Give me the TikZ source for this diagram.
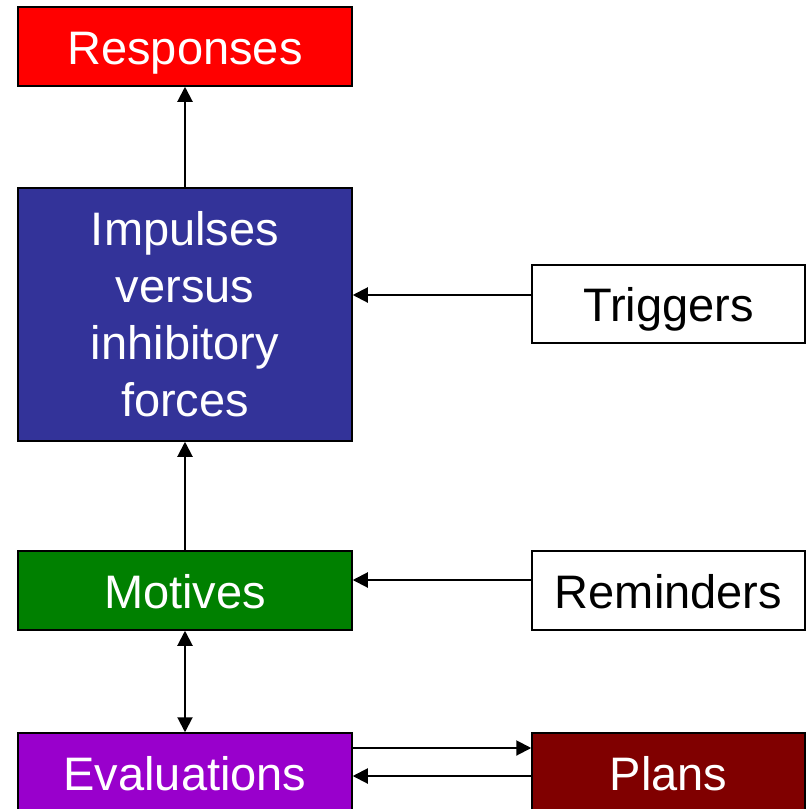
\documentclass[tikz,border=0pt]{standalone}
\usepackage{fontspec}
\setmainfont{Liberation Sans}
\usetikzlibrary{arrows.meta, positioning}

\definecolor{respred}{HTML}{FF0000}
\definecolor{impblue}{HTML}{333399}
\definecolor{motgreen}{HTML}{008000}
\definecolor{evalpurple}{HTML}{9900CC}
\definecolor{plandark}{HTML}{800000}

\tikzset{
  box/.style={draw=black, line width=1.5pt, minimum width=334pt, minimum height=79pt,
    inner sep=0pt, align=center, font=\fontsize{47}{57}\selectfont},
  oneline/.style={text height=40pt, text depth=5pt},
  sidebox/.style={box, oneline, minimum width=273pt, fill=white},
  arr/.style={line width=2pt, -{Triangle[length=15pt,width=15pt]}},
}

\begin{document}
\begin{tikzpicture}[x=1pt,y=-1pt]
	  \clip (0,0) rectangle (809,809);
	  \fill[white] (0,0) rectangle (809,809);

	  % left column
	  \node[box, oneline, fill=respred, text=white] (resp) at (185,46.5) {Responses};
	  \node[box, fill=impblue, text=white, minimum height=253pt] (imp) at (185,314.5) {Impulses\\versus\\inhibitory\\forces};
	  \node[box, oneline, fill=motgreen, text=white] (mot) at (185,590.5) {Motives};
	  \node[box, oneline, fill=evalpurple, text=white] (eval) at (185,772.5) {Evaluations};

	  % right column
	  \node[sidebox, minimum height=78pt] (trig) at (668.5,304) {Triggers};
	  \node[sidebox] (rem) at (668.5,590.5) {Reminders};
	  \node[sidebox, fill=plandark, text=white] (plans) at (668.5,772.5) {Plans};

	  \draw[arr] (imp.north) -- (resp.south);
	  \draw[arr] (mot.north) -- (imp.south);
	  \draw[arr, {Triangle[length=15pt,width=15pt]}-{Triangle[length=15pt,width=15pt]}] (mot.south) -- (eval.north);
	  \draw[arr] ([yshift=9pt]trig.west) -- ([yshift=9pt]trig.west -| imp.east);
	  \draw[arr] ([yshift=10.5pt]rem.west) -- ([yshift=10.5pt]rem.west -| mot.east);
	  \draw[arr] ([yshift=24.5pt]eval.east) -- ([yshift=24.5pt]eval.east -| plans.west);
	  \draw[arr] ([yshift=-3.5pt]plans.west) -- ([yshift=-3.5pt]plans.west -| eval.east);
	\end{tikzpicture}
\end{document}
